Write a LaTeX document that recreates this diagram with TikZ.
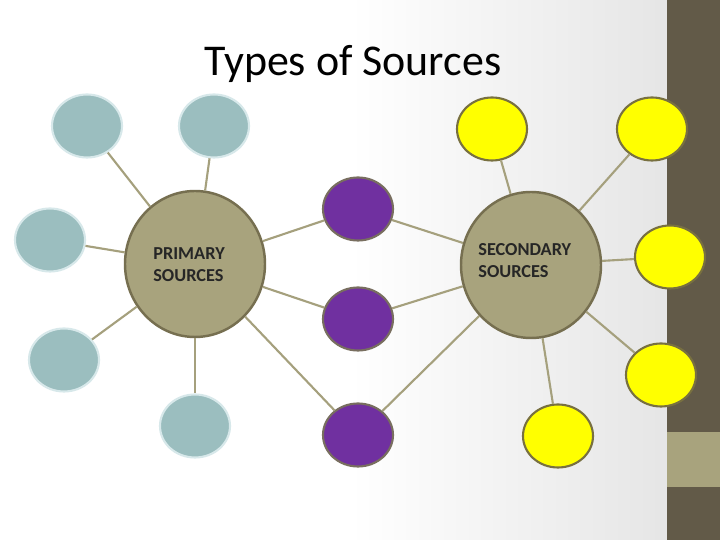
\documentclass[tikz,border=0pt]{standalone}
\usepackage{fontspec}
\setmainfont{Carlito}
\usetikzlibrary{shapes.geometric}

\definecolor{khaki}{RGB}{168,163,125}
\definecolor{khakiline}{RGB}{118,111,80}
\definecolor{linkcol}{RGB}{165,160,125}
\definecolor{bardark}{RGB}{98,90,72}
\definecolor{tealfill}{RGB}{155,190,191}
\definecolor{tealrim}{RGB}{215,232,234}
\definecolor{violet}{RGB}{112,48,160}
\definecolor{violetrim}{RGB}{120,110,95}
\definecolor{brightyellow}{RGB}{255,255,0}
\definecolor{yellowrim}{RGB}{120,112,64}

\tikzset{
  hub/.style={ellipse, draw=khakiline, line width=1.4pt, fill=khaki,
    minimum width=2.8cm, minimum height=2.92cm},
  hubtext/.style={anchor=west, align=left, inner sep=0pt,
    font=\fontsize{10.4}{12.5}\selectfont\bfseries, text=black!85},
  leaf/.style={ellipse, line width=1.2pt, minimum width=1.4cm, minimum height=1.26cm},
  primleaf/.style={leaf, draw=tealrim, fill=tealfill},
  midleaf/.style={leaf, draw=violetrim, fill=violet},
  secleaf/.style={leaf, draw=yellowrim, fill=brightyellow},
  link/.style={draw=linkcol, line width=1.2pt}
}

\begin{document}
\begin{tikzpicture}
  \useasboundingbox (0,0) rectangle (14.4,10.8);

  % background and side bar
  \fill[white] (0,0) rectangle (13.34,10.8);
  \shade[left color=white, right color=black!10] (7,0) rectangle (13.34,10.8);
  \fill[bardark] (13.34,0) rectangle (14.4,10.8);
  \fill[khaki] (13.34,1.06) rectangle (14.4,2.16);

  % title
  \node (title) at (7.06,9.52) {\fontsize{25}{30}\selectfont Types of Sources};

  % the two hubs
  \node[hub] (prim) at (3.9,5.52) {};
  \node[hub] (sec) at (10.62,5.5) {};
  \node[hubtext] (primtext) at (3.06,5.5) {PRIMARY\\SOURCES};
  \node[hubtext] (sectext) at (9.56,5.58) {SECONDARY\\SOURCES};

  % primary side
  \node[primleaf] (b1) at (1.74,8.28) {};
  \node[primleaf] (b2) at (4.28,8.28) {};
  \node[primleaf] (b3) at (1.0,6.0) {};
  \node[primleaf] (b4) at (1.28,3.6) {};
  \node[primleaf] (b5) at (3.9,2.28) {};

  % shared ones in the middle
  \node[midleaf] (p1) at (7.16,6.62) {};
  \node[midleaf] (p2) at (7.16,4.42) {};
  \node[midleaf] (p3) at (7.16,2.1) {};

  % secondary side
  \node[secleaf] (y1) at (9.84,8.22) {};
  \node[secleaf] (y2) at (13.04,8.22) {};
  \node[secleaf] (y3) at (13.4,5.66) {};
  \node[secleaf] (y4) at (13.22,3.3) {};
  \node[secleaf] (y5) at (11.16,2.08) {};

  % connectors
  \foreach \n in {b1,b2,b3,b4,b5,p1,p2,p3}
    \path[link] (prim) -- (\n);
  \foreach \n in {y1,y2,y3,y4,y5,p1,p2,p3}
    \path[link] (sec) -- (\n);
\end{tikzpicture}
\end{document}
